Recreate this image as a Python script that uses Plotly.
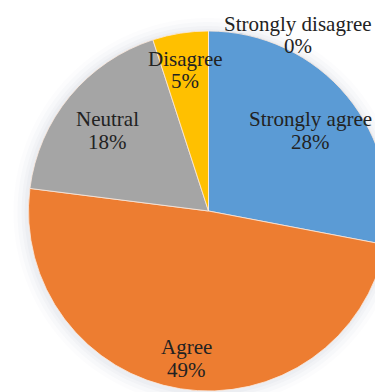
import plotly.graph_objects as go

categories = ["Strongly agree", "Agree", "Neutral", "Disagree", "Strongly disagree"]
values = [28, 49, 18, 5, 0]
colors = ["#5B9BD5", "#ED7D31", "#A5A5A5", "#FFC000", "#4472C4"]

# label positions in page pixels: (x centre, y of name line, y of percent line)
label_px = [(310, 119, 142), (186, 347, 370), (107, 119, 142), (185, 59, 81), (298, 24, 46)]

W, H = 383, 392
OFF = 8  # page body margin
cx, cy, r = 208.5 - OFF, 211 - OFF, 180

fig = go.Figure()
fig.add_trace(go.Pie(
    labels=categories,
    values=values,
    sort=False,
    direction="clockwise",
    rotation=0,
    marker=dict(colors=colors, line=dict(color="#fbe9dc", width=0.8)),
    textinfo="none",
    hoverinfo="label+percent",
    showlegend=False,
    domain=dict(x=[(cx - r) / W, (cx + r) / W], y=[1 - (cy + r) / H, 1 - (cy - r) / H]),
))

# soft shadow behind the pie
for d, a in [(14, 0.025), (10, 0.03), (6, 0.035), (3, 0.04)]:
    fig.add_shape(type="circle", xref="paper", yref="paper", layer="below",
                  x0=(cx - r - d - 1) / W, x1=(cx + r + d - 1) / W,
                  y0=1 - (cy + r + d + 1) / H, y1=1 - (cy - r - d + 1) / H,
                  fillcolor=f"rgba(110,125,150,{a})", line=dict(width=0))

total = sum(values)
font = dict(family="Liberation Serif", size=21, color="#222222")
for cat, v, (px, py1, py2) in zip(categories, values, label_px):
    for txt, py in [(cat, py1), (f"{round(100 * v / total)}%", py2)]:
        fig.add_annotation(x=(px - OFF) / W, y=1 - (py - OFF) / H, xref="paper", yref="paper",
                           text=txt, showarrow=False, font=font,
                           xanchor="center", yanchor="middle")

fig.update_layout(width=W, height=H, margin=dict(l=0, r=0, t=0, b=0),
                  paper_bgcolor="white", plot_bgcolor="white")
fig.write_html("out.html")
